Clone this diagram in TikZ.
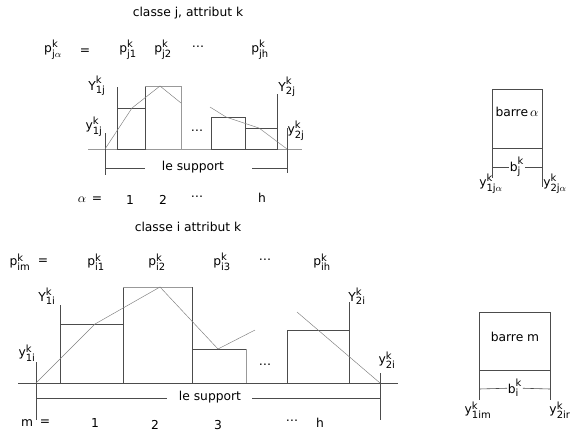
\documentclass[tikz,border=0pt]{standalone}
\usepackage{amsmath, amssymb}
\usepackage{fontspec}
\setmainfont{DejaVu Sans}
\usepackage{tikz}
\usetikzlibrary{positioning, calc}

% symbole avec exposant et indice
\newcommand{\petit}{\fontsize{8.5}{9}\selectfont}
\newcommand{\sk}[3]{$\text{#1}^{\text{\petit #2}}_{\text{\petit #3}}$}

\begin{document}
\begin{tikzpicture}[x=0.03cm, y=-0.03cm,
    lbl/.style={font=\fontsize{10.5}{12}\selectfont, inner sep=1pt},
    trait/.style={draw=black!70, line width=0.5pt},
    clair/.style={draw=black!40, line width=0.8pt},
    courbe/.style={draw=black!50, line width=0.4pt}]
    \useasboundingbox (0,0) rectangle (570,437);

    % ---------- classe j ----------
    \node[lbl] (titreJ) at (188,13) {classe j, attribut k};
    \node[lbl] (pJa) at (53,50) {\sk{p}{k}{j$\alpha$}};
    \node[lbl] (egJ) at (85,52) {=};
    \node[lbl] (pJ1) at (128,50) {\sk{p}{k}{j1}};
    \node[lbl] (pJ2) at (163,50) {\sk{p}{k}{j2}};
    \node[lbl] (ptsJ) at (198,47) {\dots};
    \node[lbl] (pJh) at (260,50) {\sk{p}{k}{jh}};

    % Axe
    \draw[clair] (88,149) -- (302,149);
    \draw[trait] (105,133) -- (105,175);
    \draw[trait] (117,87) -- (117,149);
    \draw[trait] (117,108) rectangle (145,149);
    \draw[trait] (145,149) -- (145,86);
    \draw[clair] (145,86) -- (181,86) -- (181,149);
    \draw[trait] (211,117) rectangle (245,149);
    \draw[trait] (245,128) rectangle (277,149);
    \draw[trait] (277,94) -- (277,149);
    \draw[trait] (287,128) -- (287,173);

    % Courbe
    \draw[courbe] (105,149) -- (132,108) -- (160,86) -- (181,103);
    \draw[courbe] (210,107) -- (226,117) -- (259,128) -- (287,149);

    \node[lbl] (Y1j) at (97,86) {\sk{Y}{k}{1j}};
    \node[lbl] (y1j) at (94,127) {\sk{y}{k}{1j}};
    \node[lbl] (Y2j) at (287,87) {\sk{Y}{k}{2j}};
    \node[lbl] (y2j) at (296,131) {\sk{y}{k}{2j}};
    \node[lbl] (milJ) at (197,131) {\dots};

    % Support
    \node[lbl] (suppJ) at (193,167) {le support};
    \draw[trait] (105,168) -- (145,168);
    \draw[trait] (252,168) -- (287,168);

    \node[lbl] (aJ) at (82,200) {$\alpha$};
    \node[lbl] (eqaJ) at (97,200) {=};
    \node[lbl] (nJ1) at (130,200) {1};
    \node[lbl] (nJ2) at (163,200) {2};
    \node[lbl] (nJd) at (197,197) {\dots};
    \node[lbl] (nJh) at (262,198) {h};

    % Barre alpha
    \draw[trait] (492,89) rectangle (542,148);
    \node[lbl] (barreA) at (517,112) {barre$\,\alpha$};
    \draw[trait] (492,148) -- (492,178);
    \draw[trait] (542,148) -- (542,187);
    \node[lbl, fill=white, inner sep=0.5pt] (bJ) at (517,167) {\sk{b}{k}{j}};
    \draw[trait] (492,167) -- (bJ) -- (542,167);
    \node[lbl] (y1ja) at (491,184) {\sk{y}{k}{1j$\alpha$}};
    \node[lbl] (y2ja) at (555,184) {\sk{y}{k}{2j$\alpha$}};

    % ---------- classe i ----------
    \node[lbl] (titreI) at (188,227) {classe i attribut k};
    \node[lbl] (pIm) at (20,262) {\sk{p}{k}{im}};
    \node[lbl] (egI) at (43,262) {=};
    \node[lbl] (pI1) at (96,262) {\sk{p}{k}{i1}};
    \node[lbl] (pI2) at (157,262) {\sk{p}{k}{i2}};
    \node[lbl] (pI3) at (222,262) {\sk{p}{k}{i3}};
    \node[lbl] (ptsI) at (265,260) {\dots};
    \node[lbl] (pIh) at (322,262) {\sk{p}{k}{ih}};

    % Axe
    \draw[trait] (18,383) -- (398,383);
    \draw[trait] (36,362) -- (36,420);
    \draw[trait] (60,305) -- (60,383);
    \draw[trait] (60,324) rectangle (123,383);
    \draw[trait] (123,383) -- (123,287);
    \draw[clair] (123,287) -- (192,287);
    \draw[trait] (192,287) -- (192,383);
    \draw[trait] (246,349) -- (192,349) -- (192,383);
    \draw[clair] (246,349) -- (246,383);
    \draw[trait] (287,330) rectangle (349,383);
    \draw[trait] (349,302) -- (349,383);
    \draw[trait] (380,373) -- (380,420);

    % Courbe
    \draw[courbe] (36,383) -- (95,324) -- (160,287) -- (218,349) -- (255,330);
    \draw[courbe] (297,312) -- (380,383);

    \node[lbl] (Y1i) at (47,296) {\sk{Y}{k}{1i}};
    \node[lbl] (y1i) at (27,353) {\sk{y}{k}{1i}};
    \node[lbl] (Y2i) at (357,296) {\sk{Y}{k}{2i}};
    \node[lbl] (y2i) at (387,360) {\sk{y}{k}{2i}};
    \node[lbl] (milI) at (265,365) {\dots};

    % Support
    \node[lbl] (suppI) at (210,397) {le support};
    \draw[trait] (36,398) -- (167,398);
    \draw[trait] (252,398) -- (380,398);

    \node[lbl] (mI) at (27,423) {m};
    \node[lbl] (eqmI) at (45,423) {=};
    \node[lbl] (nI1) at (95,423) {1};
    \node[lbl] (nI2) at (155,425) {2};
    \node[lbl] (nI3) at (218,425) {3};
    \node[lbl] (nId) at (292,421) {\dots};
    \node[lbl] (nIh) at (320,423) {h};

    % Barre m
    \draw[trait] (479,312) rectangle (550,370);
    \node[lbl] (barreM) at (515,337) {barre m};
    \draw[trait] (479,370) -- (479,400);
    \draw[trait] (550,370) -- (550,400);
    \node[lbl, fill=white, inner sep=0.5pt] (bI) at (515,388) {\sk{b}{k}{i}};
    \draw[trait] (479,389) -- (bI) -- (550,389);
    \node[lbl] (y1im) at (478,410) {\sk{y}{k}{1im}};
    \node[lbl] (y2ir) at (560,410) {\sk{y}{k}{2ir}};
\end{tikzpicture}
\end{document}
